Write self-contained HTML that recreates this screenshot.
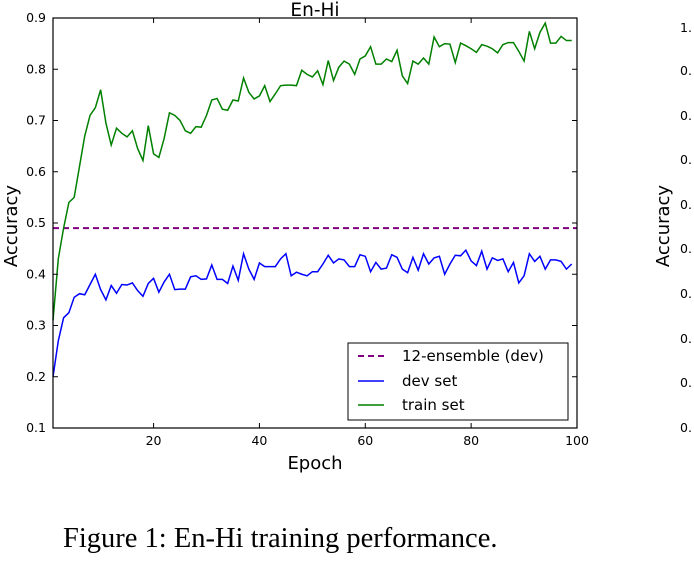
<!DOCTYPE html>
<html><head><meta charset="utf-8"><style>
html,body{margin:0;padding:0;background:#fff;}
svg text{font-family:"DejaVu Sans","Liberation Sans",sans-serif;}
</style></head><body>
<svg id="chart" width="694" height="565" viewBox="0 0 694 565" xmlns="http://www.w3.org/2000/svg">
<text x="315" y="16" font-size="18.5" text-anchor="middle">En-Hi</text>
<text transform="translate(17,226) rotate(-90)" font-size="18" text-anchor="middle">Accuracy</text>
<text x="315" y="469" font-size="18" text-anchor="middle">Epoch</text>
<text x="63" y="547" font-size="28.5" style="font-family:'Liberation Serif',serif">Figure 1: En-Hi training performance.</text>
<g id="series"></g>
<g id="axes"></g>
<g>
<rect x="348" y="343" width="220" height="77" fill="#fff" stroke="#000" stroke-width="1"/>
<line x1="358" y1="356" x2="384" y2="356" stroke="#800080" stroke-width="2" stroke-dasharray="6,4"/>
<text x="402" y="361" font-size="15">12-ensemble (dev)</text>
<line x1="358" y1="381" x2="384" y2="381" stroke="#0000ff" stroke-width="1.5"/>
<text x="402" y="386" font-size="15">dev set</text>
<line x1="358" y1="405" x2="384" y2="405" stroke="#008000" stroke-width="1.5"/>
<text x="402" y="410" font-size="15">train set</text>
</g>
<g>
<text transform="translate(669,226) rotate(-90)" font-size="18" text-anchor="middle">Accuracy</text>
<text x="680" y="32" font-size="12.5">1.</text>
<text x="680" y="75" font-size="12.5">0.</text>
<text x="680" y="120" font-size="12.5">0.</text>
<text x="680" y="164" font-size="12.5">0.</text>
<text x="680" y="209" font-size="12.5">0.</text>
<text x="680" y="253" font-size="12.5">0.</text>
<text x="680" y="298" font-size="12.5">0.</text>
<text x="680" y="343" font-size="12.5">0.</text>
<text x="680" y="387" font-size="12.5">0.</text>
<text x="680" y="432" font-size="12.5">0.</text>
</g>
</svg>
<script>
const trainAcc=[0.31,0.43,0.49,0.54,0.55,0.61,0.67,0.71,0.725,0.76,0.695,0.652,0.685,0.675,0.668,0.68,0.645,0.622,0.69,0.635,0.628,0.665,0.715,0.71,0.70,0.68,0.675,0.688,0.687,0.71,0.74,0.743,0.722,0.72,0.74,0.738,0.783,0.755,0.742,0.748,0.768,0.737,0.752,0.768,0.769,0.769,0.768,0.798,0.79,0.785,0.797,0.770,0.817,0.778,0.804,0.816,0.81,0.79,0.82,0.826,0.844,0.81,0.81,0.82,0.815,0.837,0.787,0.772,0.816,0.81,0.822,0.81,0.863,0.844,0.85,0.849,0.813,0.851,0.846,0.84,0.833,0.848,0.845,0.84,0.832,0.848,0.852,0.852,0.835,0.816,0.874,0.84,0.872,0.89,0.851,0.851,0.864,0.856,0.856];
const devAcc=[0.20,0.27,0.315,0.325,0.355,0.362,0.36,0.38,0.40,0.37,0.35,0.378,0.363,0.38,0.379,0.383,0.368,0.357,0.382,0.392,0.365,0.385,0.40,0.37,0.371,0.371,0.395,0.397,0.39,0.391,0.418,0.39,0.39,0.382,0.416,0.388,0.44,0.41,0.39,0.422,0.415,0.415,0.415,0.43,0.44,0.397,0.404,0.40,0.397,0.405,0.405,0.42,0.437,0.422,0.43,0.428,0.415,0.415,0.438,0.435,0.405,0.423,0.41,0.412,0.438,0.433,0.41,0.403,0.433,0.408,0.44,0.42,0.432,0.435,0.40,0.42,0.437,0.436,0.447,0.426,0.417,0.445,0.41,0.432,0.427,0.43,0.405,0.423,0.383,0.397,0.44,0.425,0.435,0.41,0.428,0.428,0.425,0.41,0.42];
const ensembleAcc=[0.49];
const xTicks=[20,40,60,80,100];
const yTicks=[0.1,0.2,0.3,0.4,0.5,0.6,0.7,0.8,0.9];
const X0=53,X1=577,Y0=18,Y1=428,xmin=1,xmax=100,ymin=0.1,ymax=0.9;
const xs=v=>X0+(v-xmin)/(xmax-xmin)*(X1-X0);
const ys=v=>Y1-(v-ymin)/(ymax-ymin)*(Y1-Y0);
const NS="http://www.w3.org/2000/svg";
const mk=(t,a,p)=>{const e=document.createElementNS(NS,t);for(const k in a)e.setAttribute(k,a[k]);p.appendChild(e);return e;};
const S=document.getElementById('series'),A=document.getElementById('axes');
const ens=mk('line',{x1:X0,x2:X1,y1:ys(ensembleAcc[0]),y2:ys(ensembleAcc[0]),stroke:'#800080','stroke-width':2,'stroke-dasharray':'6,4'},S);


const dp=mk('polyline',{points:devAcc.map((v,i)=>xs(i+1)+','+ys(v)).join(' '),fill:'none',stroke:'#0000ff','stroke-width':1.5},S);


const tp=mk('polyline',{points:trainAcc.map((v,i)=>xs(i+1)+','+ys(v)).join(' '),fill:'none',stroke:'#008000','stroke-width':1.5},S);


const fr=mk('rect',{x:X0,y:Y0,width:X1-X0,height:Y1-Y0,fill:'none',stroke:'#000','stroke-width':1.2},A);


xTicks.forEach(t=>{const x=xs(t);
mk('line',{x1:x,x2:x,y1:Y1,y2:Y1-5,stroke:'#000'},A);mk('line',{x1:x,x2:x,y1:Y0,y2:Y0+5,stroke:'#000'},A);
const tx=mk('text',{x:x,y:Y1+17,'font-size':12.5,'text-anchor':'middle'},A);tx.textContent=t;

});
yTicks.forEach(t=>{const y=ys(t);
mk('line',{x1:X0,x2:X0+5,y1:y,y2:y,stroke:'#000'},A);mk('line',{x1:X1,x2:X1-5,y1:y,y2:y,stroke:'#000'},A);
const tx=mk('text',{x:X0-7,y:y+4,'font-size':12.5,'text-anchor':'end'},A);tx.textContent=t.toFixed(1);

});
</script>
</body></html>
